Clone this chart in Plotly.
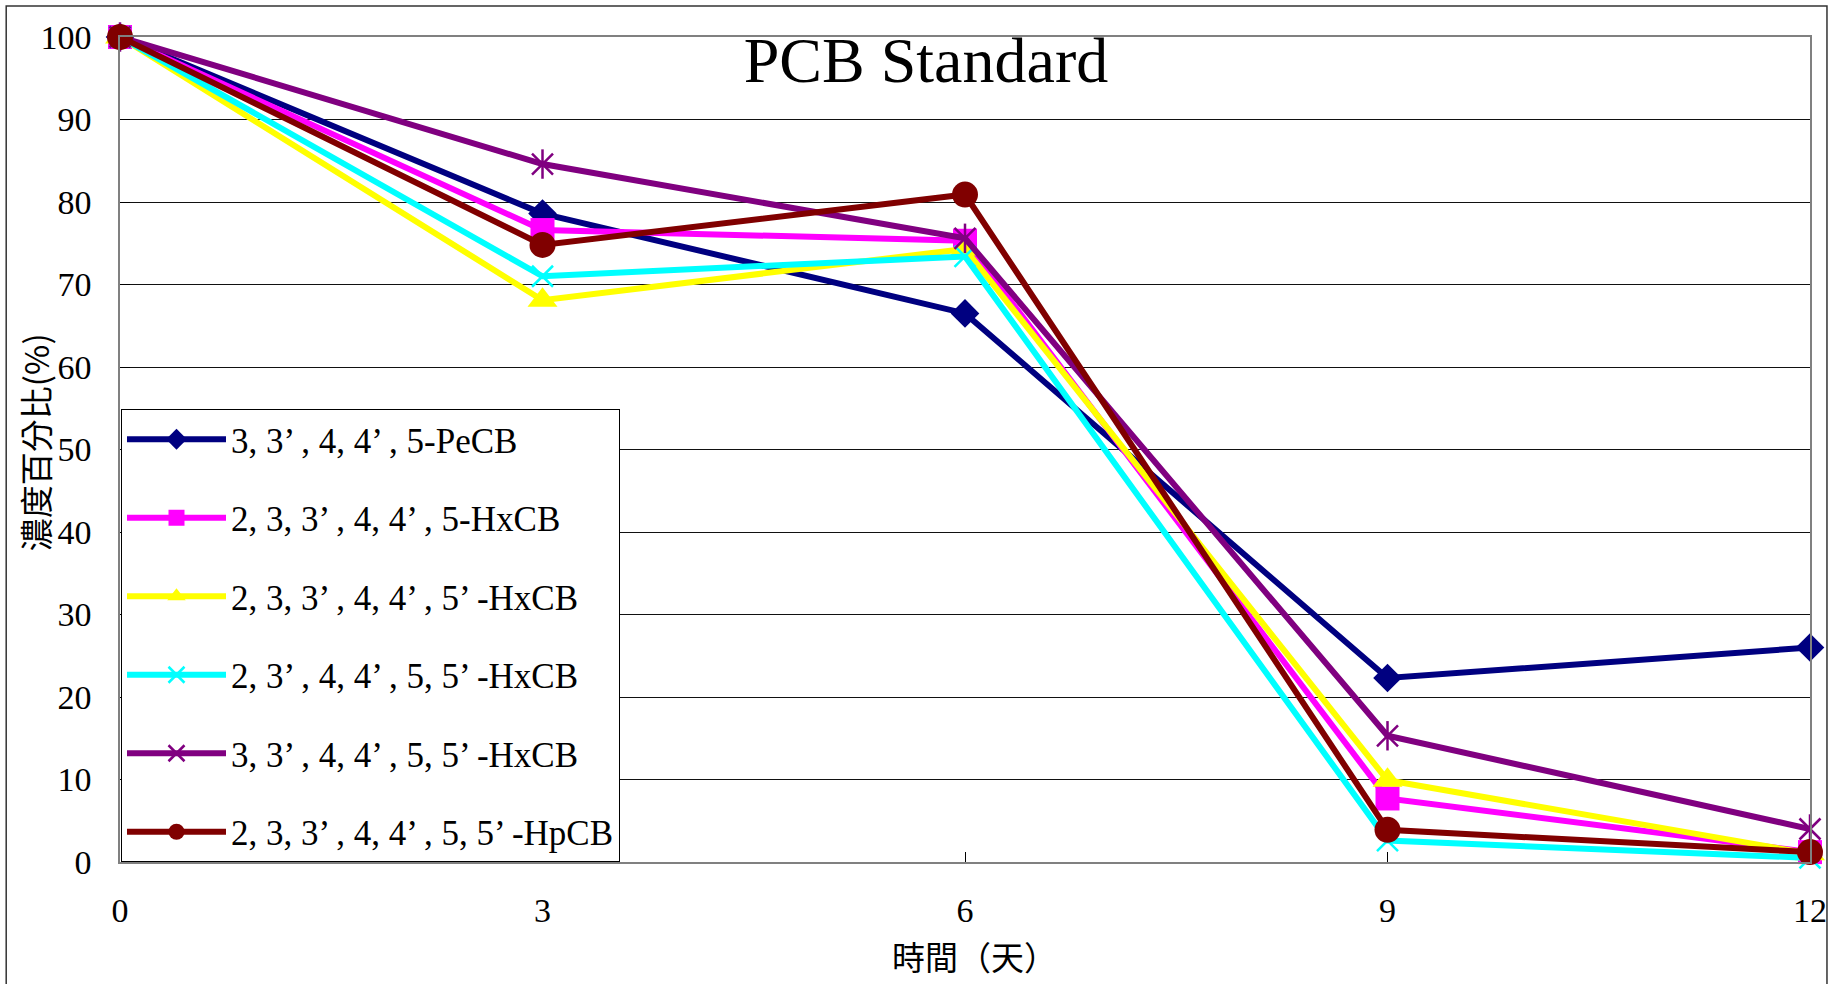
import plotly.graph_objects as go

# ---- data ----
days = [0, 3, 6, 9, 12]
series_names = [
    "3, 3’ , 4, 4’ , 5-PeCB",
    "2, 3, 3’ , 4, 4’ , 5-HxCB",
    "2, 3, 3’ , 4, 4’ , 5’ -HxCB",
    "2, 3’ , 4, 4’ , 5, 5’ -HxCB",
    "3, 3’ , 4, 4’ , 5, 5’ -HxCB",
    "2, 3, 3’ , 4, 4’ , 5, 5’ -HpCB",
]
pecb_345 = [100, 78.6, 66.5, 22.3, 26.0]
hxcb_233445 = [100, 76.6, 75.3, 7.7, 1.2]
hxcb_23344p5 = [100, 68.1, 74.3, 9.9, 1.0]
hxcb_234455 = [100, 71.0, 73.4, 2.6, 0.5]
hxcb_334455 = [100, 84.6, 75.6, 15.3, 4.0]
hpcb_2334455 = [100, 74.8, 80.9, 3.9, 1.2]
x_ticks = [0, 3, 6, 9, 12]
y_ticks = [0, 10, 20, 30, 40, 50, 60, 70, 80, 90, 100]
title_text = "PCB Standard"
x_title = "時間（天）"
y_title = "濃度百分比(%)"

values = [pecb_345, hxcb_233445, hxcb_23344p5, hxcb_234455, hxcb_334455, hpcb_2334455]
colors = ["#000080", "#FF00FF", "#FFFF00", "#00FFFF", "#800080", "#800000"]
symbols = ["diamond", "square", "triangle-up", "x-thin-open", "x-thin-open", "circle"]
sizes = [22, 24, 26, 21, 21, 26]

W, H = 1839, 984
L, R, T, B = 120, 26, 37, 122
pw, ph = W - L - R, H - T - B

fig = go.Figure()
for i, (nm, vals, c, s, sz) in enumerate(zip(series_names, values, colors, symbols, sizes)):
    marker = dict(symbol=s, size=sz, color=c)
    if "thin" in s:
        marker["line"] = dict(color=c, width=2.5)
    fig.add_trace(go.Scatter(
        x=days, y=vals, name=nm, mode="lines+markers",
        line=dict(color=c, width=6), marker=marker,
        cliponaxis=False, legendgroup=str(i),
    ))
    if i == 4:
        fig.add_trace(go.Scatter(
            x=days, y=vals, mode="markers", showlegend=False, legendgroup=str(i),
            marker=dict(symbol="line-ns-open", size=sz, color=c, line=dict(color=c, width=2.5)),
            cliponaxis=False, hoverinfo="skip",
        ))

serif = "Liberation Serif"
cjk = "Noto Sans CJK TC"

fig.update_layout(
    width=W, height=H,
    margin=dict(l=L, r=R, t=T, b=B),
    paper_bgcolor="white", plot_bgcolor="white",
    title=dict(text=title_text, font=dict(family=serif, size=64, color="black"),
               x=926 / W, xref="container", xanchor="center",
               y=1 - 60 / H, yref="container", yanchor="middle"),
    legend=dict(x=1 / pw, y=0, xanchor="left", yanchor="bottom",
                bgcolor="white", bordercolor="black", borderwidth=1,
                font=dict(family=serif, size=35, color="black"),
                tracegroupgap=30, itemwidth=99),
    xaxis=dict(range=[0, 12], tickvals=x_ticks, ticks="inside", ticklen=10,
               tickcolor="black", showgrid=False, zeroline=False,
               showline=True, linecolor="#808080", linewidth=1.5, mirror=True,
               tickfont=dict(family=serif, size=34, color="black"),
               ticklabelstandoff=17),
    yaxis=dict(range=[0, 100], tickvals=y_ticks, ticks="inside", ticklen=10,
               tickcolor="black", showgrid=True, gridcolor="#111111", gridwidth=1,
               zeroline=True, zerolinecolor="black", zerolinewidth=2.5,
               showline=True, linecolor="#808080", linewidth=1.5, mirror=True,
               tickfont=dict(family=serif, size=34, color="black"),
               ticklabelstandoff=20),
    annotations=[
        dict(text=y_title, textangle=-90, xref="paper", yref="paper",
             x=(35 - L) / pw, y=(H - B - 442) / ph, xanchor="center", yanchor="middle",
             showarrow=False, font=dict(family=cjk, size=33, color="black")),
        dict(text=x_title, xref="paper", yref="paper",
             x=(976 - L) / pw, y=(H - B - 956) / ph, xanchor="center", yanchor="middle",
             showarrow=False, font=dict(family=cjk, size=33, color="black")),
    ],
    shapes=[dict(type="rect", xref="paper", yref="paper",
                 x0=(6 - L) / pw, x1=(1830 - L) / pw,
                 y0=(H - B - 1000) / ph, y1=(H - B - 6) / ph,
                 line=dict(color="#333333", width=1.5), fillcolor="rgba(0,0,0,0)", layer="below")],
    showlegend=True,
)

fig.write_html("out.html")
